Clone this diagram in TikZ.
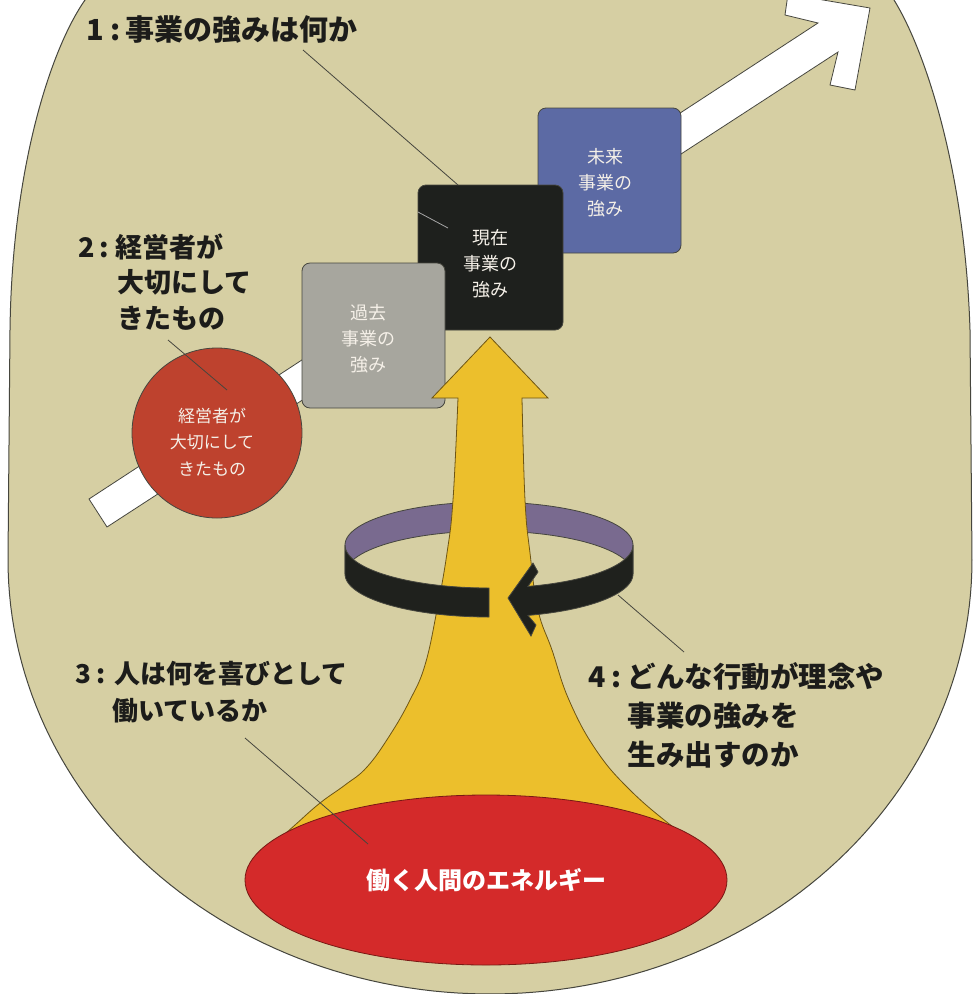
\documentclass[tikz,border=0pt]{standalone}
\usepackage{fontspec}
\newfontfamily\jp{Noto Sans CJK JP}
\usetikzlibrary{shapes.geometric}
\definecolor{beigec}{RGB}{214,207,163}
\definecolor{outlinec}{RGB}{70,70,62}
\definecolor{bluec}{RGB}{92,106,164}
\definecolor{blackc}{RGB}{30,32,29}
\definecolor{grayc}{RGB}{167,166,158}
\definecolor{circc}{RGB}{190,66,46}
\definecolor{purplec}{RGB}{121,106,143}
\definecolor{ringc}{RGB}{31,33,29}
\definecolor{yellowc}{RGB}{236,191,44}
\definecolor{yelline}{RGB}{110,85,20}
\definecolor{ellc}{RGB}{212,42,42}
\definecolor{ellline}{RGB}{120,25,20}
\definecolor{titlec}{RGB}{28,28,26}
\definecolor{lightc}{RGB}{245,240,232}
\begin{document}
\begin{tikzpicture}[x=1pt,y=-1pt,
  every node/.style={inner sep=0pt,outer sep=0pt},
  outl/.style={draw=outlinec,line width=0.8pt},
  boxshape/.style={outl,rounded corners=8pt,minimum width=143pt,minimum height=145pt},
  boxtext/.style={text=lightc,align=center,font=\jp\fontsize{18}{26}\selectfont},
  circtext/.style={text=lightc,align=center,font=\jp\fontsize{17}{26.5}\selectfont},
  titletext/.style={text=titlec,align=left,anchor=west},
  leader/.style={draw=outlinec,line width=0.8pt}]
\useasboundingbox (0,0) rectangle (973,994);
\clip (0,0) rectangle (973,994);
\fill[white] (0,0) rectangle (973,994);
% beige background shape
\filldraw[fill=beigec,draw=outlinec,line width=1pt]
  (85,-30) -- (85,0) .. controls (50,50) and (12,170) .. (10,330) -- (8,560)
  -- plot[domain=180:0,samples=120] ({490+482*cos(\x)},{560+434*sin(\x)})
  -- (970,330) .. controls (965,170) and (925,50) .. (894,0) -- (894,-30) -- cycle;
% white arrow
\filldraw[fill=white,outl]
  (89,499) -- (818,23) -- (785,15) -- (788,-6) -- (870,8) -- (855,90) -- (830,85) -- (838,52) -- (107,527) -- cycle;
% boxes
\node[boxshape,fill=bluec] (future) at (609.5,180.5) {};
\node[boxshape,fill=blackc,minimum width=145pt] (present) at (490.5,257.5) {};
\node[boxshape,fill=grayc] (past) at (373.5,335.5) {};
\node[boxtext] (futuretxt) at (605,183) {未来\\事業の\\強み};
\node[boxtext] (presenttxt) at (490,264) {現在\\事業の\\強み};
\node[boxtext] (pasttxt) at (368,339) {過去\\事業の\\強み};
% red circle
\node[circle,fill=circc,outl,minimum size=170pt] (value) at (217,433) {};
\node[circtext] (valuetxt) at (212,442) {経営者が\\大切にして\\きたもの};
% ring back (purple)
\filldraw[fill=purplec,outl]
  plot[domain=180:360,samples=60] ({489+144*cos(\x)},{545+43*sin(\x)})
  -- plot[domain=360:180,samples=60] ({489+144*cos(\x)},{574+43*sin(\x)}) -- cycle;
% yellow arrow
\filldraw[fill=yellowc,draw=yelline,line width=0.8pt]
  (490,337) -- (548,398) -- (522,398)
  -- plot[smooth,tension=0.7] coordinates {(522,398) (525,500) (530,553) (538,610) (552,650) (569,700) (596,750) (630,790) (673,827) (705,850)}
  -- (705,900) -- (275,900)
  -- plot[smooth,tension=0.7] coordinates {(275,843) (295,825) (320,803) (345,785) (367,767) (390,735) (410,700) (425,665) (437,610) (447,553) (453,500) (458,398)}
  -- (432,398) -- cycle;
% ring front (black), left piece
\filldraw[fill=ringc,outl]
  plot[domain=180:90,samples=50] ({489+144*cos(\x)},{545+43*sin(\x)})
  -- plot[domain=90:180,samples=50] ({489+144*cos(\x)},{574+43*sin(\x)}) -- cycle;
% ring front, right piece with arrow head
\filldraw[fill=ringc,outl]
  (508,598) -- (533,563) -- (538,572)
  -- plot[domain=74.3:0,samples=40] ({489+144*cos(\x)},{545+43*sin(\x)})
  -- plot[domain=0:74.3,samples=40] ({489+144*cos(\x)},{574+43*sin(\x)})
  -- (536,625) -- (531,636) -- cycle;
% red ellipse
\node[ellipse,fill=ellc,draw=ellline,line width=0.8pt,minimum width=482pt,minimum height=170pt] (energy) at (486,880) {};
\node[text=white,font=\jp\bfseries\fontsize{24}{28}\selectfont] (energytxt) at (486,880) {働く人間のエネルギー};
% titles
\node[titletext,font=\jp\bfseries\fontsize{29}{36}\selectfont] (t1) at (86,29)
  {1\hspace{0.22em}:\hspace{0.2em}事業の強みは何か};
\node[titletext,font=\jp\bfseries\fontsize{27}{35.5}\selectfont] (t2) at (78,282)
  {\makebox[1.4em][l]{2\hspace{0.2em}:}経営者が\\\hspace*{1.45em}大切にして\\\hspace*{1.45em}きたもの};
\node[titletext,font=\jp\bfseries\fontsize{26}{37}\selectfont] (t3) at (75,692.5)
  {\makebox[1.5em][l]{3\hspace{0.2em}:}人は何を喜びとして\\\hspace*{1.45em}働いているか};
\node[titletext,font=\jp\bfseries\fontsize{28.5}{39}\selectfont] (t4) at (588,715)
  {\makebox[1.4em][l]{4\hspace{0.2em}:}どんな行動が理念や\\\hspace*{1.4em}事業の強みを\\\hspace*{1.4em}生み出すのか};
% leader lines
\coordinate (l1a) at (303,50);
\coordinate (l1b) at (458,185);
\coordinate (l1c) at (418,212);
\coordinate (l1d) at (448,228);
\coordinate (l2a) at (168,340);
\coordinate (l2b) at (227,390);
\coordinate (l3a) at (245,738);
\coordinate (l3b) at (368,844);
\coordinate (l4a) at (618,595);
\coordinate (l4b) at (684,652);
\draw[leader] (l1a) -- (l1b);
\draw[draw=gray!70,line width=0.8pt] (l1c) -- (l1d);
\draw[leader] (l2a) -- (l2b);
\draw[leader] (l3a) -- (l3b);
\draw[leader] (l4a) -- (l4b);
\end{tikzpicture}
\end{document}
